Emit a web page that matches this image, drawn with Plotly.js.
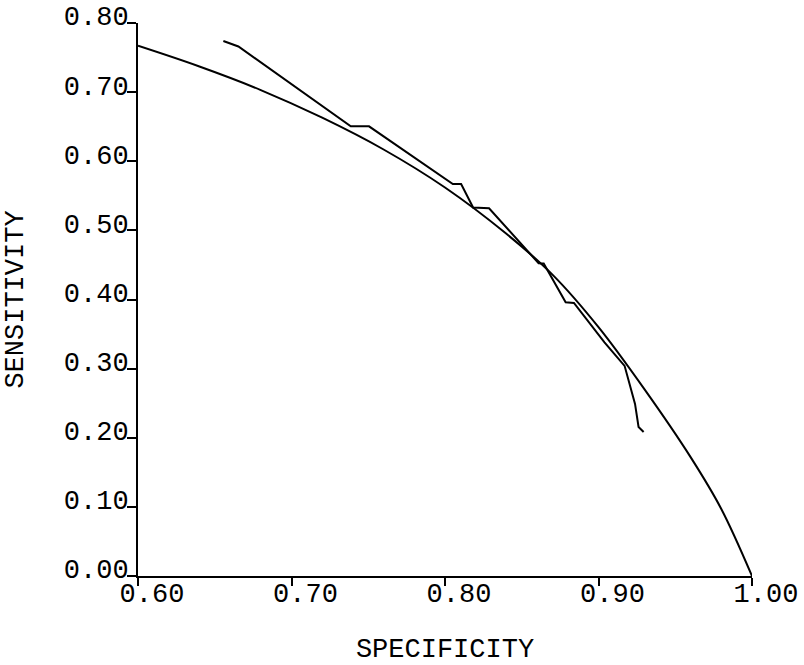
<!DOCTYPE html>
<html>
<head>
<meta charset="utf-8">
<script src="https://cdn.plot.ly/plotly-3.0.1.min.js"></script>
<style>html,body{margin:0;padding:0;background:#fff;}#chart{width:804px;height:665px;}</style>
</head>
<body>
<div id="chart"></div>
<script>
// Fitted (smooth) ROC curve
var fitSpecificity = [0.600, 0.640, 0.680, 0.720, 0.760, 0.800, 0.840, 0.870, 0.900, 0.930, 0.960, 0.980, 1.000];
var fitSensitivity = [0.767, 0.737, 0.703, 0.663, 0.617, 0.562, 0.495, 0.436, 0.360, 0.270, 0.172, 0.097, 0.000];

// Empirical (stepped) ROC curve
var empSpecificity = [0.6556, 0.6654, 0.7386, 0.7505, 0.8051, 0.8105, 0.8183, 0.8287, 0.8610, 0.8643, 0.8786, 0.8840, 0.9039, 0.9170, 0.9238, 0.9261, 0.9294];
var empSensitivity = [0.774, 0.766, 0.6505, 0.6505, 0.567, 0.567, 0.533, 0.532, 0.4524, 0.452, 0.396, 0.395, 0.338, 0.304, 0.249, 0.2156, 0.2084];

var xTicks = [0.60, 0.70, 0.80, 0.90, 1.00];
var yTicks = [0.00, 0.10, 0.20, 0.30, 0.40, 0.50, 0.60, 0.70, 0.80];

var font = {family: 'Liberation Mono, DejaVu Sans Mono, monospace', size: 27, color: '#000'};

var traces = [
  {x: fitSpecificity, y: fitSensitivity, type: 'scatter', mode: 'lines',
   line: {color: '#000', width: 2, shape: 'spline', smoothing: 1}, hoverinfo: 'skip'},
  {x: empSpecificity, y: empSensitivity, type: 'scatter', mode: 'lines',
   line: {color: '#000', width: 2}, hoverinfo: 'skip'}
];

var layout = {
  width: 804, height: 665,
  margin: {l: 138, r: 52, t: 23, b: 89},
  paper_bgcolor: '#fff', plot_bgcolor: '#fff',
  showlegend: false,
  font: font,
  xaxis: {
    range: [0.6, 1.0], tickvals: xTicks, tickformat: '.2f',
    showline: true, linecolor: '#000', linewidth: 2,
    ticks: 'outside', ticklen: 8, tickwidth: 2, tickcolor: '#000',
    showgrid: false, zeroline: false, ticklabelshift: 14, ticklabelstandoff: -16,
    tickfont: font,
    title: {text: 'SPECIFICITY', font: font, standoff: 44}
  },
  yaxis: {
    range: [0, 0.8], tickvals: yTicks, tickformat: '.2f',
    showline: true, linecolor: '#000', linewidth: 2,
    ticks: 'outside', ticklen: 9, tickwidth: 2, tickcolor: '#000',
    showgrid: false, zeroline: false, ticklabelshift: -7, ticklabelstandoff: -7,
    tickfont: font,
    title: {text: 'SENSITIVITY', font: font, standoff: 32}
  }
};

Plotly.newPlot('chart', traces, layout, {displayModeBar: false, staticPlot: true});
</script>
</body>
</html>
